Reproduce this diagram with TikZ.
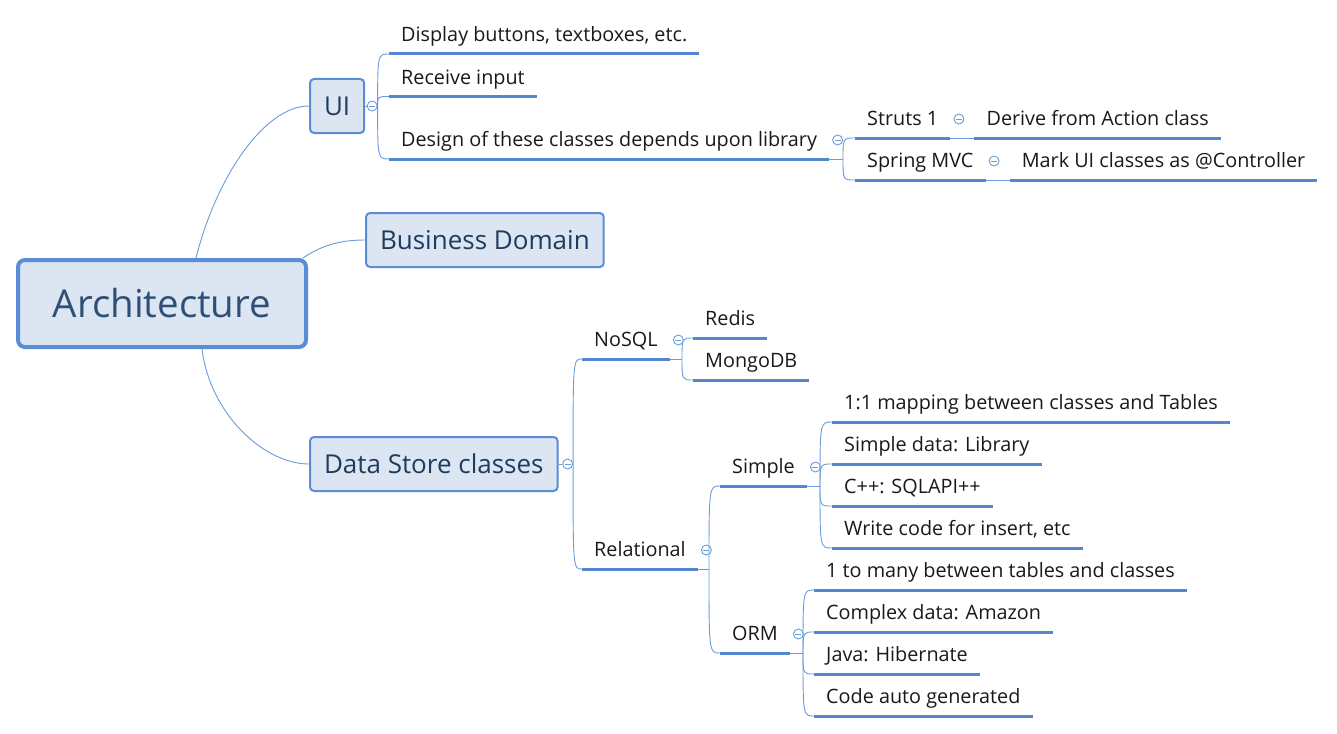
\documentclass[tikz,border=0pt]{standalone}
\usepackage{fontspec}
\setmainfont{Open Sans}
\usetikzlibrary{positioning, calc}

\definecolor{boxfill}{HTML}{DCE6F2}
\definecolor{boxline}{HTML}{5B8DD5}
\definecolor{boxtext}{HTML}{1F3B5E}
\definecolor{roottext}{HTML}{2E5077}
\definecolor{linkblue}{HTML}{6A9BDB}
\definecolor{ulblue}{HTML}{5587D0}

\tikzset{
    box/.style={draw=boxline, line width=2pt, fill=boxfill, rounded corners=4pt, text=boxtext,
        minimum height=54pt, inner xsep=14pt, font=\fontsize{26}{30}\selectfont},
    rootbox/.style={box, line width=4pt, rounded corners=7pt, minimum height=87pt,
        minimum width=288pt, text=roottext, font=\fontsize{38.5}{44}\selectfont},
    topic/.style={anchor=south west, inner xsep=12pt, inner ysep=0pt, text height=15pt,
        text depth=12pt, text=black!90, font=\fontsize{19.8}{24}\selectfont},
    uline/.style={draw=ulblue, line width=3pt},
    link/.style={draw=linkblue, line width=0.9pt},
    collapse/.style={circle, draw=linkblue, fill=white, line width=0.9pt, inner sep=0pt,
        minimum size=10pt, path picture={\draw[linkblue, line width=0.9pt]
        ([xshift=-3pt]path picture bounding box.center) -- ([xshift=3pt]path picture bounding box.center);}},
    branch/.style={to path={.. controls (\tikztostart |- \tikztotarget) .. (\tikztotarget)}}
}

\begin{document}
\begin{tikzpicture}[x=1pt, y=-1pt]
        \useasboundingbox (0,0) rectangle (1337,733);

        % Main topics
        \node[rootbox] (arch) at (162,303.5) {Architecture};
        \node[box, anchor=west] (ui) at (309,106) {UI};
        \node[box, anchor=west] (biz) at (365,240) {Business Domain};
        \node[box, anchor=west] (store) at (309,464) {Data Store classes};

        % UI subtopics
        \node[topic] (display) at (389,54) {Display buttons, textboxes, etc.};
        \node[topic] (input) at (389,96.5) {Receive input};
        \node[topic] (design) at (389,159) {Design of these classes depends upon library};
        \node[topic] (struts) at (855,138) {Struts 1};
        \node[topic] (spring) at (855,180) {Spring MVC};
        \node[topic] (action) at ([xshift=24pt]struts.south east) {Derive from Action class};
        \node[topic] (controller) at ([xshift=24pt]spring.south east) {Mark UI classes as @Controller};

        % Data store subtopics
        \node[topic] (nosql) at (582,359) {NoSQL};
        \node[topic] (rel) at (582,569) {Relational};
        \node[topic] (redis) at (693,338) {Redis};
        \node[topic] (mongo) at (693,380) {MongoDB};
        \node[topic] (simple) at (720,486) {Simple};
        \node[topic] (orm) at (720,653) {ORM};
        \node[topic] (map) at (832,422) {1:1 mapping between classes and Tables};
        \node[topic] (sdata) at (832,464) {Simple data: Library};
        \node[topic] (cpp) at (832,506) {C++: SQLAPI++};
        \node[topic] (write) at (832,548) {Write code for insert, etc};
        \node[topic] (many) at (814,590) {1 to many between tables and classes};
        \node[topic] (cdata) at (814,632) {Complex data: Amazon};
        \node[topic] (java) at (814,674) {Java: Hibernate};
        \node[topic] (auto) at (814,716) {Code auto generated};

        % Underlines
        \foreach \n in {display,input,design,struts,spring,action,controller,nosql,rel,redis,mongo,
                        simple,orm,map,sdata,cpp,write,many,cdata,java,auto}
            \draw[uline] (\n.south west) -- (\n.south east);

        % Collapse marks
        \node[collapse] (cui) at ([xshift=7pt]ui.east) {};
        \node[collapse] (cstore) at ([xshift=9pt]store.east) {};
        \foreach \n in {design,struts,spring,nosql,rel,simple,orm}
            \node[collapse] (c\n) at ([xshift=8.5pt,yshift=19pt]\n.south east) {};

        % Branch points
        \coordinate (bdesign) at ([xshift=-12pt]design.south east -| struts.south west);
        \coordinate (bnosql) at ([xshift=-11pt]nosql.south east -| redis.south west);
        \coordinate (brel) at ([xshift=-11pt]rel.south east -| simple.south west);
        \coordinate (bsimple) at ([xshift=-12pt]simple.south east -| map.south west);
        \coordinate (borm) at ([xshift=-11pt]orm.south east -| many.south west);

        % Connectors from the root
        \draw[link] ([xshift=34pt]arch.north) .. controls +(20,-80) and +(-45,0) .. (ui.west);
        \draw[link] ([xshift=-5pt]arch.north east) .. controls +(15,-10) and +(-30,0) .. (biz.west);
        \draw[link] ([xshift=40pt]arch.south) .. controls +(8,65) and +(-45,0) .. (store.west);

        % Branches
        \draw[link] (ui) -- (cui);
        \foreach \t in {display,input,design}
            \draw[link] (cui.east) to[branch] (\t.south west);
        \draw[link] (design.south east) -- (bdesign);
        \foreach \t in {struts,spring}
            \draw[link] (bdesign) to[branch] (\t.south west);
        \draw[link] (struts.south east) -- (action.south west);
        \draw[link] (spring.south east) -- (controller.south west);

        \draw[link] (store) -- (cstore);
        \foreach \t in {nosql,rel}
            \draw[link] (cstore.east) to[branch] (\t.south west);
        \draw[link] (nosql.south east) -- (bnosql);
        \foreach \t in {redis,mongo}
            \draw[link] (bnosql) to[branch] (\t.south west);
        \draw[link] (rel.south east) -- (brel);
        \foreach \t in {simple,orm}
            \draw[link] (brel) to[branch] (\t.south west);
        \draw[link] (simple.south east) -- (bsimple);
        \foreach \t in {map,sdata,cpp,write}
            \draw[link] (bsimple) to[branch] (\t.south west);
        \draw[link] (orm.south east) -- (borm);
        \foreach \t in {many,cdata,java,auto}
            \draw[link] (borm) to[branch] (\t.south west);
    \end{tikzpicture}
\end{document}
